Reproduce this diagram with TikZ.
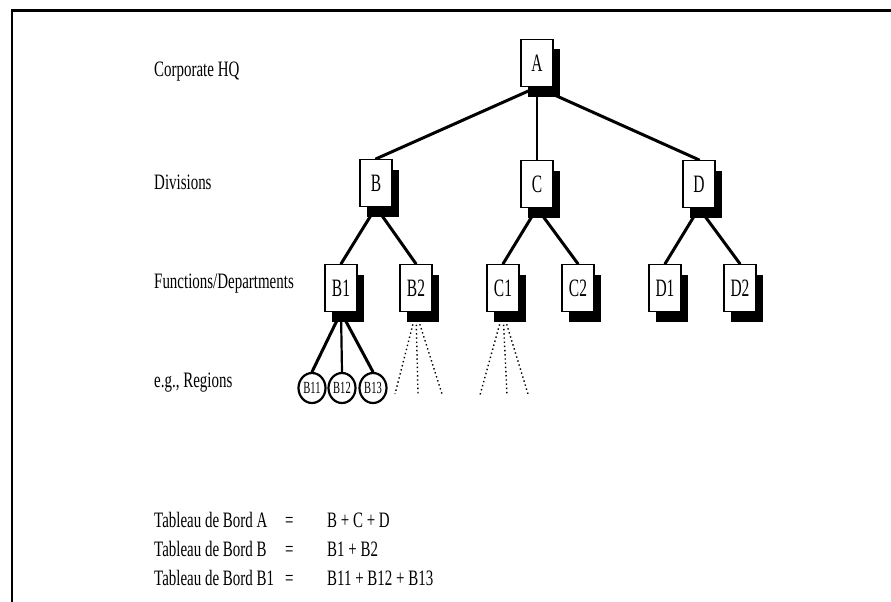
\documentclass[tikz,border=0pt]{standalone}
\usepackage{fontspec}
\setmainfont{Liberation Serif}[FakeStretch=0.68]
\newfontfamily\boxfont{Liberation Serif}[FakeStretch=0.62]
\usetikzlibrary{shadows,backgrounds,shapes.geometric}

\tikzset{
  unit/.style={draw=black, line width=1.3pt, fill=white,
    minimum width=32pt, minimum height=47pt, inner sep=0pt,
    font=\boxfont\fontsize{25}{25}\selectfont,
    general shadow={fill=black, shadow xshift=7pt, shadow yshift=-10pt}},
  region/.style={ellipse, draw=black, line width=2.2pt, fill=white,
    minimum width=27pt, minimum height=30pt, inner sep=0pt,
    font=\boxfont\fontsize{17}{17}\selectfont},
  level/.style={anchor=base west, inner sep=0pt,
    font=\fontsize{22}{22}\selectfont},
  link/.style={line width=3pt, line cap=round},
  vlink/.style={line width=1.6pt},
  open/.style={line width=1.4pt, dash pattern=on 1.4pt off 2.8pt},
}

\begin{document}
\begin{tikzpicture}[x=1pt, y=-1pt]
  \useasboundingbox (0,0) rectangle (891,602);
  % frame
  \draw[line width=3pt] (11,11) -- (891,11);
  \draw[line width=2pt] (12,10) -- (12,602);

  % level captions
  \node[level] (lhq)  at (154,77)  {Corporate HQ};
  \node[level] (ldiv) at (154,189) {Divisions};
  \node[level] (lfun) at (154,288) {Functions/Departments};
  \node[level] (lreg) at (154,387) {e.g., Regions};

  % organisation units
  \node[unit] (A)  at (537,63)  {A};
  \node[unit] (B)  at (376,183) {B};
  \node[unit] (C)  at (537,184) {C};
  \node[unit] (D)  at (699,184) {D};
  \node[unit] (B1) at (341,288) {B1};
  \node[unit] (B2) at (416,288) {B2};
  \node[unit] (C1) at (503,288) {C1};
  \node[unit] (C2) at (578,288) {C2};
  \node[unit] (D1) at (665,288) {D1};
  \node[unit] (D2) at (740,288) {D2};

  % regions under B1
  \node[region] (B11) at (312,388) {B11};
  \node[region] (B12) at (342,388) {B12};
  \node[region] (B13) at (373,388) {B13};

  % loose ends of the open sub-trees
  \coordinate (b2l) at (395,394);
  \coordinate (b2m) at (418,394);
  \coordinate (b2r) at (442,394);
  \coordinate (c1l) at (480,395);
  \coordinate (c1m) at (507,395);
  \coordinate (c1r) at (528,394);

  \begin{scope}[on background layer]
    \fill[white] (0,0) rectangle (891,602);
    \draw[link]  (A.south) -- (B.north);
    \draw[vlink] (A.south) -- (C.north);
    \draw[link]  (A.south) -- (D.north);
    \draw[link]  (B.south) -- (B1.north);
    \draw[link]  (B.south) -- (B2.north);
    \draw[link]  (C.south) -- (C1.north);
    \draw[link]  (C.south) -- (C2.north);
    \draw[link]  (D.south) -- (D1.north);
    \draw[link]  (D.south) -- (D2.north);
    \draw[link]  (B1.south) -- (B11.north);
    \draw[line width=2.2pt] (B1.south) -- (B12.north);
    \draw[link]  (B1.south) -- (B13.north);
    \draw[open]  (B2.south) -- (b2l);
    \draw[open]  (B2.south) -- (b2m);
    \draw[open]  (B2.south) -- (b2r);
    \draw[open]  (C1.south) -- (c1l);
    \draw[open]  (C1.south) -- (c1m);
    \draw[open]  (C1.south) -- (c1r);
  \end{scope}

  % consolidation rules
  \node[level] (tA)  at (154,527) {Tableau de Bord A};
  \node[level] (eA)  at (285,527) {=};
  \node[level] (rA)  at (327,527) {B + C + D};
  \node[level] (tB)  at (154,556) {Tableau de Bord B};
  \node[level] (eB)  at (285,556) {=};
  \node[level] (rB)  at (327,556) {B1 + B2};
  \node[level] (tB1) at (154,585) {Tableau de Bord B1};
  \node[level] (eB1) at (285,585) {=};
  \node[level] (rB1) at (327,585) {B11 + B12 + B13};
\end{tikzpicture}
\end{document}
